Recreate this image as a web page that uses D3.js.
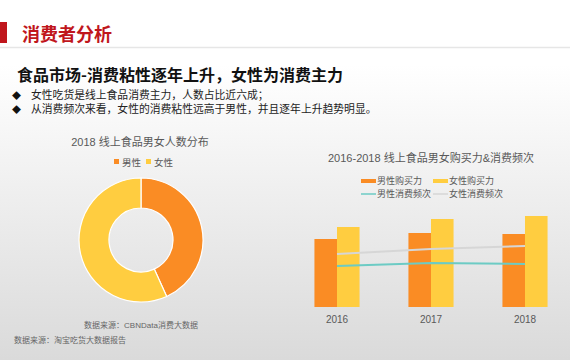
<!DOCTYPE html>
<html>
<head>
<meta charset="utf-8">
<script src="https://cdn.jsdelivr.net/npm/d3@7"></script>
<style>
  body { margin: 0; padding: 0; }
  svg { display: block; font-family: "Liberation Sans", "Noto Sans CJK SC", sans-serif; }
</style>
</head>
<body>
<div id="chart"></div>
<script>
// data
var pieLabels = ["男性", "女性"];
var pieValues = [43.2, 56.8];

var years = ["2016", "2017", "2018"];
var seriesNames = ["男性购买力", "女性购买力", "男性消费频次", "女性消费频次"];
var maleBuy = [68, 74, 73];
var femaleBuy = [80, 88, 91];
var maleFreq = [41, 44, 43];
var femaleFreq = [53, 58, 61];

var bullets = [
  "女性吃货是线上食品消费主力，人数占比近六成；",
  "从消费频次来看，女性的消费粘性远高于男性，并且逐年上升趋势明显。"
];

var width = 570, height = 360;
var orange = "#fa8c24", yellow = "#ffcd40", teal = "#6ccbc4", grey = "#d6d6d6";

var svg = d3.select("#chart").append("svg")
  .attr("width", width)
  .attr("height", height);

// background gradient
var defs = svg.append("defs");
var grad = defs.append("linearGradient")
  .attr("id", "bg").attr("x1", 0).attr("y1", 0).attr("x2", 0).attr("y2", 1);
grad.append("stop").attr("offset", "0.18").attr("stop-color", "#ffffff");
grad.append("stop").attr("offset", "1").attr("stop-color", "#dadada");
svg.append("rect").attr("width", width).attr("height", height).attr("fill", "url(#bg)");

/* ---------- header ---------- */
svg.append("rect").attr("x", 0).attr("y", 22).attr("width", 7).attr("height", 21).attr("fill", "#c0161c");
svg.append("text")
  .attr("x", 22).attr("y", 41)
  .attr("fill", "#c0161c")
  .style("font-family", "Noto Sans CJK SC")
  .style("font-size", "18px").style("font-weight", "bold")
  .text("消费者分析");
svg.append("line")
  .attr("x1", 0).attr("x2", width).attr("y1", 47.5).attr("y2", 47.5)
  .attr("stroke", "#e6e6e6").attr("stroke-width", 1.5);

svg.append("text")
  .attr("x", 17).attr("y", 81)
  .attr("fill", "#111")
  .style("font-family", "Noto Sans CJK SC")
  .style("font-size", "16px").style("font-weight", "bold")
  .text("食品市场-消费粘性逐年上升，女性为消费主力");

bullets.forEach(function (b, i) {
  var y = 99 + i * 14;
  svg.append("text").attr("x", 12).attr("y", y).attr("fill", "#111")
    .style("font-size", "9px").text("◆");
  svg.append("text").attr("x", 31).attr("y", y).attr("fill", "#222")
    .style("font-family", "Noto Sans CJK SC")
    .style("font-size", "10.8px").text(b);
});

/* ---------- donut ---------- */
var pieCx = 141, pieCy = 240;
svg.append("text")
  .attr("x", 140).attr("y", 146)
  .attr("text-anchor", "middle")
  .attr("fill", "#595959")
  .style("font-size", "11px")
  .text("2018 线上食品男女人数分布");

var pieColor = d3.scaleOrdinal().domain(pieLabels).range([orange, yellow]);

var pieLegend = svg.append("g").attr("transform", "translate(114,162)");
pieLabels.forEach(function (d, i) {
  var g = pieLegend.append("g").attr("transform", "translate(" + (i * 32) + ",0)");
  g.append("rect").attr("x", 0).attr("y", -3).attr("width", 5).attr("height", 5).attr("fill", pieColor(d));
  g.append("text").attr("x", 8).attr("y", 3.5).attr("fill", "#595959").style("font-size", "9.5px").text(d);
});

var pie = d3.pie().sort(null).value(function (d) { return d; });
var arc = d3.arc().innerRadius(32).outerRadius(62);

svg.append("g")
  .attr("transform", "translate(" + pieCx + "," + pieCy + ")")
  .selectAll("path")
  .data(pie(pieValues))
  .enter()
  .append("path")
  .attr("d", arc)
  .attr("fill", function (d, i) { return pieColor(pieLabels[i]); })
  .attr("stroke", "#ffffff")
  .attr("stroke-width", 1.2);

/* ---------- bar + line chart ---------- */
svg.append("text")
  .attr("x", 431).attr("y", 162)
  .attr("text-anchor", "middle")
  .attr("fill", "#595959")
  .style("font-size", "11px")
  .text("2016-2018 线上食品男女购买力&消费频次");

// legend
var legendPos = [[361, 181], [433, 181], [361, 194], [433, 194]];
var legendColor = [orange, yellow, teal, grey];
seriesNames.forEach(function (d, i) {
  var g = svg.append("g").attr("transform", "translate(" + legendPos[i][0] + "," + legendPos[i][1] + ")");
  if (i < 2) {
    g.append("rect").attr("x", 0).attr("y", -2).attr("width", 15).attr("height", 4).attr("fill", legendColor[i]);
  } else {
    g.append("line").attr("x1", 0).attr("x2", 15).attr("y1", 0).attr("y2", 0)
      .attr("stroke", legendColor[i]).attr("stroke-width", 1.5);
  }
  g.append("text").attr("x", 16).attr("y", 3.2).attr("fill", "#595959").style("font-size", "9px").text(d);
});

var x = d3.scaleBand()
  .domain(years)
  .range([290, 572])
  .paddingInner(0.52)
  .paddingOuter(0.26);

var xInner = d3.scaleBand()
  .domain(["male", "female"])
  .range([0, x.bandwidth()]);

var y = d3.scaleLinear()
  .domain([0, 100])
  .range([307, 207]);

var barData = years.map(function (yr, i) {
  return [{ key: "male", year: yr, value: maleBuy[i] }, { key: "female", year: yr, value: femaleBuy[i] }];
});

svg.append("g")
  .selectAll("g")
  .data(barData)
  .enter()
  .append("g")
  .attr("transform", function (d) { return "translate(" + x(d[0].year) + ",0)"; })
  .selectAll("rect")
  .data(function (d) { return d; })
  .enter()
  .append("rect")
  .attr("x", function (d) { return xInner(d.key); })
  .attr("y", function (d) { return y(d.value); })
  .attr("width", xInner.bandwidth())
  .attr("height", function (d) { return y(0) - y(d.value); })
  .attr("fill", function (d) { return d.key == "male" ? orange : yellow; });

// x axis, labels only
var xAxis = svg.append("g")
  .attr("transform", "translate(0,307)")
  .call(d3.axisBottom(x).tickSize(0).tickPadding(9));
xAxis.select(".domain").remove();
xAxis.selectAll("text")
  .attr("fill", "#595959")
  .style("font-size", "10px")
  .style("font-family", "Liberation Sans, Arial, sans-serif");

var line = d3.line()
  .x(function (d, i) { return x(years[i]) + x.bandwidth() / 2; })
  .y(function (d) { return y(d); });

svg.append("path").datum(femaleFreq)
  .attr("d", line).attr("fill", "none").attr("stroke", grey).attr("stroke-width", 2);
svg.append("path").datum(maleFreq)
  .attr("d", line).attr("fill", "none").attr("stroke", teal).attr("stroke-width", 2);

/* ---------- sources ---------- */
svg.append("text")
  .attr("x", 141).attr("y", 328)
  .attr("text-anchor", "middle")
  .attr("fill", "#666")
  .style("font-size", "8px")
  .text("数据来源：CBNData消费大数据");
svg.append("text")
  .attr("x", 14).attr("y", 343)
  .attr("fill", "#666")
  .style("font-size", "8px")
  .text("数据来源：淘宝吃货大数据报告");
</script>
</body>
</html>
